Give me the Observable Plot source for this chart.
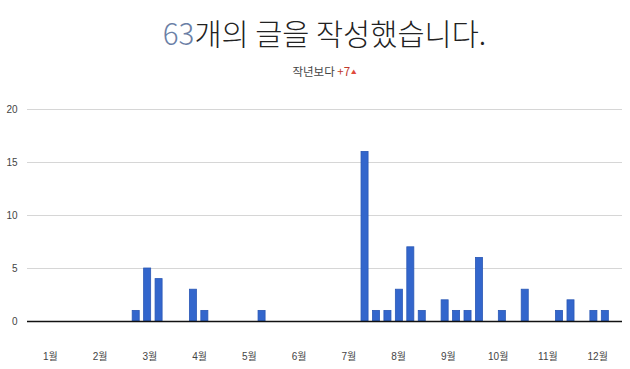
<!DOCTYPE html>
<html><head><meta charset="utf-8">
<script src="https://cdn.jsdelivr.net/npm/d3@7"></script>
<script src="https://cdn.jsdelivr.net/npm/@observablehq/plot@0.6"></script>
<style>
body{margin:0;background:#fff;font-family:"Noto Sans CJK KR","Noto Sans",sans-serif;}
#wrap{position:relative;width:630px;height:369px;overflow:hidden;background:#fff}
#title{position:absolute;left:27px;width:595px;top:9px;text-align:center;font-size:29.5px;font-weight:300;color:#222;line-height:46px;white-space:nowrap}
#title .n{color:#6b7fa6}
#sub{position:absolute;left:27px;width:595px;top:62px;text-align:center;font-size:11.5px;color:#444;line-height:18px;white-space:nowrap}
#sub .d{color:#c0392b}
#sub .t{color:#e04a3c;font-size:5.5px;vertical-align:2px;margin-left:1px}
#chart{position:absolute;left:0;top:90px}
</style></head><body>
<div id="wrap">
  <div id="title"><span class="n"></span><span class="rest">개의 글을 작성했습니다.</span></div>
  <div id="sub">작년보다 <span class="d"></span><span class="t">▲</span></div>
  <div id="chart"></div>
</div>
<script>
// Week index (0-based from Jan 1) of weeks that have posts, and post counts
const weeks  = [9, 10, 11, 14, 15, 20, 29, 30, 31, 32, 33, 34, 36, 37, 38, 39, 41, 43, 46, 47, 49, 50];
const counts = [1, 5, 4, 3, 1, 1, 16, 1, 1, 3, 7, 1, 2, 1, 1, 6, 1, 3, 1, 2, 1, 1];
const monthLabels = ["1월","2월","3월","4월","5월","6월","7월","8월","9월","10월","11월","12월"];
const yTicks = [0, 5, 10, 15, 20];
const deltaFromLastYear = 7;
const year = 2023;

document.querySelector("#title .n").textContent = d3.sum(counts);
document.querySelector("#sub .d").textContent = (deltaFromLastYear > 0 ? "+" : "") + deltaFromLastYear;

const start = new Date(Date.UTC(year, 0, 1));
const data = weeks.map((w, i) => ({
  x1: d3.utcDay.offset(start, 7 * w),
  x2: d3.utcDay.offset(start, 7 * w + 7),
  y: counts[i]
}));
// month labels sit mid-month on an even monthly grid
const avgMonth = 365.25 / 12;
const monthTicks = monthLabels.map((_, m) => new Date(start.getTime() + (14 + m * avgMonth) * 864e5));

const chart = Plot.plot({
  width: 630,
  height: 279,
  marginTop: 19,
  marginBottom: 48,
  marginLeft: 27,
  marginRight: 8,
  style: {fontFamily: "'Liberation Sans','Noto Sans CJK KR',sans-serif", fontSize: "10px", color: "#444", background: "#fff"},
  x: {type: "utc", domain: [start, d3.utcDay.offset(start, 364)], ticks: monthTicks,
      tickFormat: (d, i) => monthLabels[i], tickSize: 0, tickPadding: 31, label: null},
  y: {domain: [0, 20], ticks: yTicks, tickSize: 0, tickPadding: 10, label: null},
  marks: [
    Plot.gridY(yTicks.filter(d => d > 0), {stroke: "#d6d6d6", strokeOpacity: 1}),
    Plot.rectY(data, {x1: "x1", x2: "x2", y: "y", fill: "#3366cc", stroke: "#2a58b5", strokeWidth: 0.8, insetLeft: 2.2, insetRight: 2.2}),
    Plot.ruleY([0], {stroke: "#111", strokeWidth: 1.5})
  ]
});
document.getElementById("chart").appendChild(chart);
</script>
</body></html>
